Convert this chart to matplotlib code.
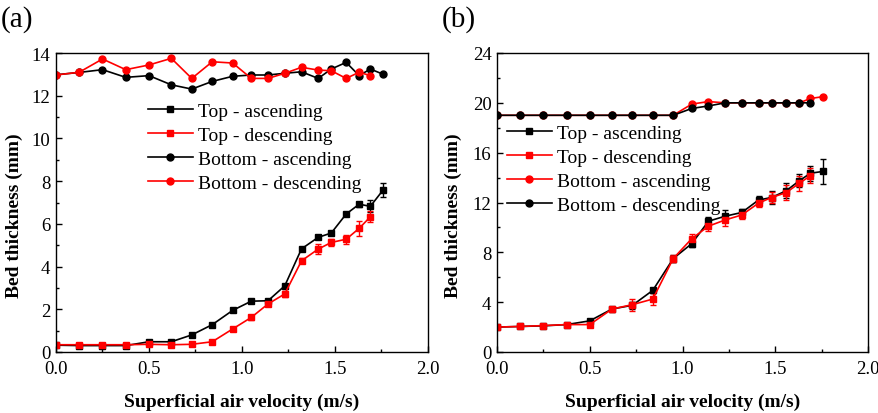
import matplotlib
matplotlib.use("Agg")
from matplotlib import pyplot as plt
from matplotlib.ticker import MultipleLocator, FormatStrFormatter
from matplotlib.lines import Line2D
import numpy as np

plt.rcParams['font.family'] = ['Liberation Serif', 'DejaVu Serif']

# superficial air velocity (m/s)
v = [0.0, 0.125, 0.25, 0.375, 0.5, 0.62, 0.73, 0.84, 0.95, 1.05,
     1.14, 1.23, 1.32, 1.41, 1.48, 1.56, 1.63, 1.69, 1.76]
v_desc = v[:-1]

# (a) bed thickness (mm)
a_top_asc = [0.32, 0.3, 0.3, 0.3, 0.48, 0.48, 0.8, 1.28, 1.95, 2.38,
             2.4, 3.1, 4.83, 5.37, 5.57, 6.46, 6.92, 6.82, 7.6]
a_top_asc_err = [0.05, 0.05, 0.05, 0.05, 0.05, 0.05, 0.05, 0.05, 0.08, 0.08,
                 0.08, 0.1, 0.1, 0.1, 0.1, 0.1, 0.12, 0.28, 0.33]
a_top_desc = [0.34, 0.34, 0.34, 0.34, 0.36, 0.34, 0.36, 0.48, 1.08, 1.62,
              2.25, 2.72, 4.27, 4.82, 5.13, 5.28, 5.79, 6.33]
a_top_desc_err = [0.05, 0.05, 0.05, 0.05, 0.05, 0.05, 0.05, 0.05, 0.1, 0.1,
                  0.1, 0.15, 0.12, 0.22, 0.15, 0.2, 0.35, 0.25]
a_bot_asc = [12.98, 13.09, 13.22, 12.86, 12.94, 12.51, 12.31, 12.67, 12.91, 12.97,
             12.97, 13.05, 13.12, 12.81, 13.25, 13.56, 12.94, 13.25, 13.0]
a_bot_desc = [12.97, 13.1, 13.72, 13.22, 13.44, 13.75, 12.81, 13.59, 13.53, 12.81,
              12.81, 13.05, 13.33, 13.2, 13.17, 12.81, 13.1, 12.94]

# (b) bed thickness (mm)
b_top_asc = [2.0, 2.05, 2.1, 2.2, 2.5, 3.45, 3.75, 4.95, 7.5, 8.7,
             10.5, 10.9, 11.2, 12.2, 12.4, 12.95, 13.75, 14.35, 14.5]
b_top_asc_err = [0.05, 0.05, 0.1, 0.1, 0.1, 0.15, 0.3, 0.2, 0.3, 0.3,
                 0.3, 0.5, 0.3, 0.3, 0.5, 0.6, 0.5, 0.6, 1.0]
b_top_desc = [2.0, 2.05, 2.12, 2.2, 2.2, 3.45, 3.8, 4.25, 7.5, 9.1,
              10.1, 10.6, 11.0, 11.95, 12.4, 12.8, 13.55, 14.15]
b_top_desc_err = [0.05, 0.05, 0.1, 0.1, 0.15, 0.2, 0.47, 0.5, 0.3, 0.4,
                  0.4, 0.47, 0.35, 0.35, 0.45, 0.6, 0.6, 0.6]
b_bot_asc = [19.0, 19.0, 19.0, 19.0, 19.0, 19.0, 19.0, 19.0, 19.0, 19.9,
             20.1, 20.0, 20.0, 20.0, 20.0, 20.0, 20.0, 20.35, 20.5]
b_bot_desc = [19.0, 19.0, 19.0, 19.0, 19.0, 19.0, 19.0, 19.0, 19.0, 19.55,
              19.75, 20.0, 20.0, 20.0, 20.0, 20.0, 20.0, 20.0]

labels = ["Top - ascending", "Top - descending",
          "Bottom - ascending", "Bottom - descending"]

TICK_FS = 13.5
LABEL_FS = 14
LEG_FS = 14
LW = 1.2
MS = 5
err_kw = dict(linewidth=LW, markersize=MS, capsize=2.5, elinewidth=1.0, capthick=1.0)

fig = plt.figure(figsize=(8.79, 4.14), dpi=100)
ax1 = fig.add_axes([56/879, 1 - 353/414, 372/879, 299/414])
ax2 = fig.add_axes([497/879, 1 - 353/414, 371/879, 299/414])


def style(ax, ymax, ymajor, ylab_x):
    ax.set_xlim(0, 2.0)
    ax.set_ylim(0, ymax)
    ax.xaxis.set_major_locator(MultipleLocator(0.5))
    ax.xaxis.set_minor_locator(MultipleLocator(0.25))
    ax.yaxis.set_major_locator(MultipleLocator(ymajor))
    ax.yaxis.set_minor_locator(MultipleLocator(ymajor / 2))
    ax.xaxis.set_major_formatter(FormatStrFormatter('%.1f'))
    ax.tick_params(which='both', direction='in', top=False, right=False,
                   labelsize=TICK_FS, width=1.0)
    ax.tick_params(axis='x', pad=6)
    ax.tick_params(axis='y', pad=4)
    ax.tick_params(which='major', length=4)
    ax.tick_params(which='minor', length=2.5)
    for s in ax.spines.values():
        s.set_linewidth(1.0)
    ax.set_xlabel("Superficial air velocity (m/s)", fontsize=LABEL_FS, fontweight='bold')
    ax.set_ylabel("Bed thickness (mm)", fontsize=LABEL_FS, fontweight='bold')
    ax.xaxis.set_label_coords(0.5, -0.135)
    ax.yaxis.set_label_coords(ylab_x, 0.46)


def legend_handles(colors):
    marks = ['s', 's', 'o', 'o']
    return [Line2D([], [], color=c, marker=m, linewidth=LW, markersize=MS)
            for c, m in zip(colors, marks)]


leg_kw = dict(loc='center left', frameon=False, fontsize=LEG_FS, borderpad=0,
              borderaxespad=0, handlelength=2.3, handletextpad=0.26, labelspacing=0.33)

# (a)
ax1.errorbar(v, a_top_asc, yerr=a_top_asc_err, fmt='-s', color='black', **err_kw)
ax1.errorbar(v_desc, a_top_desc, yerr=a_top_desc_err, fmt='-s', color='red', **err_kw)
ax1.plot(v, a_bot_asc, '-o', color='black', linewidth=LW, markersize=MS)
ax1.plot(v_desc, a_bot_desc, '-o', color='red', linewidth=LW, markersize=MS)
style(ax1, 14, 2, -0.09)
ax1.legend(legend_handles(['black', 'red', 'black', 'red']), labels,
           bbox_to_anchor=(0.247, 0.685), **leg_kw)
fig.text(0.001, 0.985, "(a)", fontsize=21, va='top', ha='left')

# (b)
ax2.errorbar(v, b_top_asc, yerr=b_top_asc_err, fmt='-s', color='black', **err_kw)
ax2.errorbar(v_desc, b_top_desc, yerr=b_top_desc_err, fmt='-s', color='red', **err_kw)
ax2.plot(v, b_bot_asc, '-o', color='red', linewidth=LW, markersize=MS)
ax2.plot(v_desc, b_bot_desc, '-o', color='black', linewidth=LW, markersize=MS)
style(ax2, 24, 4, -0.094)
ax2.legend(legend_handles(['black', 'red', 'red', 'black']), labels,
           bbox_to_anchor=(0.027, 0.612), **leg_kw)
fig.text(0.503, 0.985, "(b)", fontsize=21, va='top', ha='left')

fig.savefig("out.png", dpi=100)
